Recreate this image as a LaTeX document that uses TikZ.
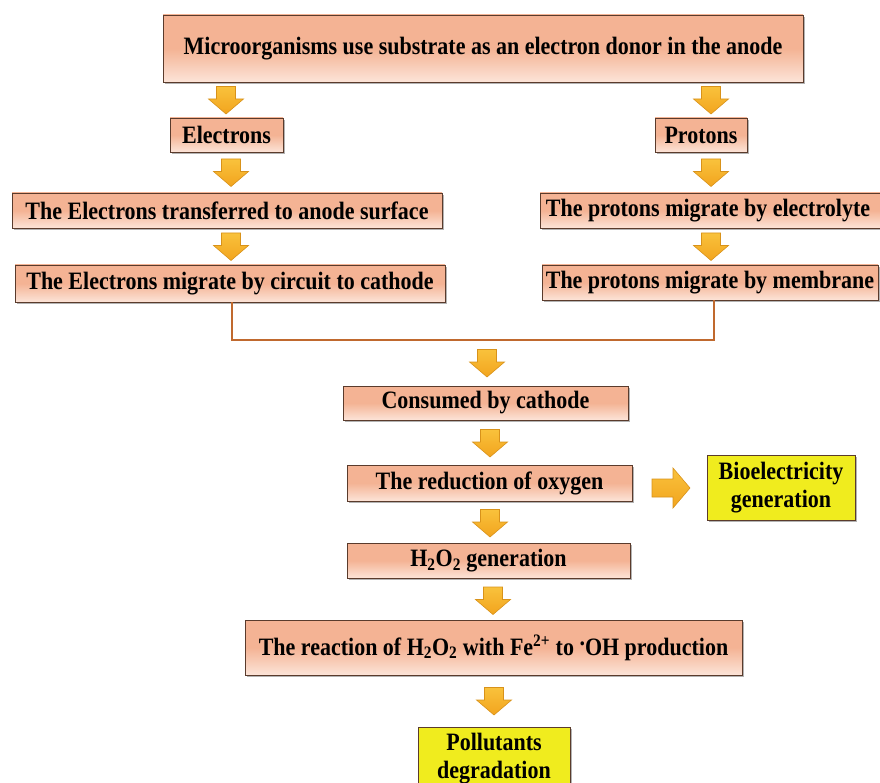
\documentclass[tikz,border=0pt]{standalone}
\usepackage{fontspec}
\setmainfont{Liberation Serif}[FakeStretch=0.88]
\usetikzlibrary{shadows,calc}
\definecolor{boxtop}{HTML}{F4B394}
\definecolor{boxbot}{HTML}{FCE4D8}
\definecolor{boxline}{HTML}{5A3B2C}
\definecolor{arrtop}{HTML}{F9C23C}
\definecolor{arrbot}{HTML}{F2A41E}
\definecolor{arrline}{HTML}{D8921A}
\definecolor{yell}{HTML}{F0EC1E}
\definecolor{conn}{HTML}{C0692E}
\tikzset{
 base/.style={draw=boxline, line width=0.9pt, font=\fontsize{25}{28}\selectfont\bfseries, align=center, inner sep=0pt,
   drop shadow={shadow xshift=2pt, shadow yshift=-2pt, fill=black!50, opacity=0.6}},
 pbox/.style={base, top color=boxtop, bottom color=boxbot, middle color=boxtop},
 ybox/.style={base, fill=yell},
 arrstyle/.style={top color=arrtop, bottom color=arrbot, draw=arrline, line width=0.6pt, line join=miter},
 pics/darr/.style={code={\path[arrstyle] (-9.5,-12.5) -- (9.5,-12.5) -- (9.5,0) -- (17.5,0) -- (0,15) -- (-17.5,0) -- (-9.5,0) -- cycle;}},
 pics/rarr/.style={code={\path[arrstyle] (-21,-9) -- (0,-9) -- (0,-20) -- (17,0) -- (0,20) -- (0,9) -- (-21,9) -- cycle;}},
 connline/.style={draw=conn, line width=1.8pt},
}
\begin{document}
\begin{tikzpicture}[x=1pt,y=-1pt]
\useasboundingbox (0,0) rectangle (880,783);
\node[pbox, minimum width=640pt, minimum height=67pt] (top) at (483,48.5) {Microorganisms use substrate as an electron donor in the anode};
\node[pbox, minimum width=113pt, minimum height=34pt] (el) at (226.5,135) {Electrons};
\node[pbox, minimum width=92pt, minimum height=34pt] (pr) at (701,135) {Protons};
\node[pbox, minimum width=430pt, minimum height=35pt] (tr) at (227,210.5) {The Electrons transferred to anode surface};
\node[pbox, minimum width=344pt, minimum height=35pt] (ely) at (712,210.5) {The protons migrate by electrolyte\hspace{8pt}};
\node[pbox, minimum width=430pt, minimum height=37pt] (cir) at (230,283.5) {The Electrons migrate by circuit to cathode};
\node[pbox, minimum width=336pt, minimum height=35pt] (mem) at (710,282.5) {The protons migrate by membrane};
\node[pbox, minimum width=285pt, minimum height=34pt] (con) at (485.5,403) {Consumed by cathode};
\node[pbox, minimum width=285pt, minimum height=36pt] (red) at (489.5,483) {The reduction of oxygen};
\node[ybox, minimum width=148pt, minimum height=65pt] (bio) at (781,487.5) {Bioelectricity\\generation};
\node[pbox, minimum width=283pt, minimum height=35pt] (hoo) at (488.5,560.5) {H\textsubscript{2}O\textsubscript{2} generation};
\node[pbox, minimum width=497pt, minimum height=55pt] (rea) at (493.5,647.5) {The reaction of H\textsubscript{2}O\textsubscript{2} with Fe\textsuperscript{2+} to \raisebox{0.4em}{.}OH production};
\node[ybox, minimum width=152pt, minimum height=63pt] (pol) at (494,758.5) {Pollutants\\degradation};
\coordinate (cl) at (232,340);
\coordinate (cr) at (714,340);
\draw[connline] (cir.south -| cl) -- (cl) -- (cr) -- (mem.south -| cr);
\pic at (226,99) {darr};
\pic at (711,99) {darr};
\pic at (231,171.5) {darr};
\pic at (711,171.5) {darr};
\pic at (231,245.5) {darr};
\pic at (711,245.5) {darr};
\pic at (487,362) {darr};
\pic at (490,442) {darr};
\pic at (490,522) {darr};
\pic at (493,599.5) {darr};
\pic at (494,700) {darr};
\pic at (673,488) {rarr};
\end{tikzpicture}
\end{document}
